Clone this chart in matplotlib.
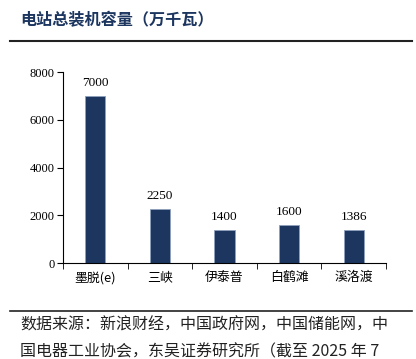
import numpy as np
import matplotlib.pyplot as plt
from matplotlib.lines import Line2D

plt.rcParams['font.family'] = ['Liberation Serif', 'Noto Sans CJK SC']

stations = ['墨脱(e)', '三峡', '伊泰普', '白鹤滩', '溪洛渡']
capacity = [7000, 2250, 1400, 1600, 1386]
yticks = [0, 2000, 4000, 6000, 8000]

title = '电站总装机容量（万千瓦）'
source = ['数据来源：新浪财经，中国政府网，中国储能网，中',
          '国电器工业协会，东吴证券研究所（截至 2025 年 7']

navy = '#1c3660'

fig = plt.figure(figsize=(4.16, 3.59), dpi=100)
ax = fig.add_axes([63/416, 1-263/359, (386-63)/416, (263-72)/359])

x = np.arange(len(stations))
ax.bar(x, capacity, width=0.31, color=navy, edgecolor='#8ea0bd', linewidth=0.6)
for xi, v in zip(x, capacity):
    ax.annotate(str(v), (xi, v), xytext=(0, 5), textcoords='offset points',
                ha='center', va='bottom', fontsize=9.5, family='Liberation Serif')

ax.set_xlim(-0.5, len(stations)-0.5)
ax.set_ylim(0, 8000)
ax.set_yticks(yticks)
ax.set_yticklabels([str(t) for t in yticks], fontsize=9, family='Liberation Serif')
ax.set_xticks(x)
ax.set_xticklabels(stations, fontsize=9.3, family=['Noto Sans CJK SC'])
ax.set_xticks(np.arange(len(stations)+1) - 0.5, minor=True)
ax.tick_params(axis='x', which='major', length=0, pad=6)
ax.tick_params(axis='x', which='minor', length=4, direction='out')
ax.tick_params(axis='y', length=4, direction='out', pad=2)
for s in ['top', 'right']:
    ax.spines[s].set_visible(False)

fig.text(20/416, 1-20/359, title, fontsize=11.6, fontweight='bold', color=navy,
         family=['Noto Sans CJK SC'], va='center', ha='left')
fig.add_artist(Line2D([10/416, 412/416], [1-41/359, 1-41/359], color='#222222', lw=1.5))
fig.add_artist(Line2D([10/416, 412/416], [1-311/359, 1-311/359], color='#222222', lw=1.2))
fig.text(20/416, 1-325/359, source[0], fontsize=11.5, family=['Noto Sans CJK SC'],
         va='center', ha='left', color='#222222')
fig.text(20/416, 1-352/359, source[1], fontsize=11.5, family=['Noto Sans CJK SC'],
         va='center', ha='left', color='#222222')

fig.savefig('out.png', dpi=100)
